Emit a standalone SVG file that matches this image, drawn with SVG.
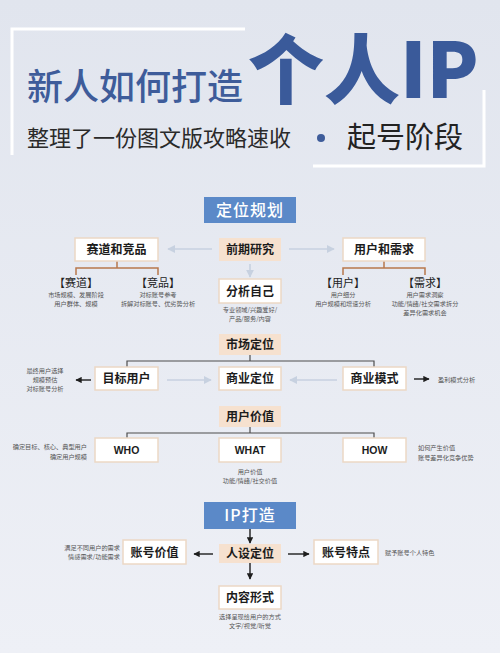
<svg xmlns="http://www.w3.org/2000/svg" width="500" height="653" viewBox="0 0 500 653">
<style>
text{font-family:"Noto Sans CJK SC","Noto Sans",sans-serif;}
.box{fill:#ffffff;stroke:#ecd8c5;stroke-width:1.5;}
.peach{fill:#f6e1cf;}
.blue{fill:#5b89c8;}
.lbl{font-size:12px;font-weight:700;fill:#1c1c1c;text-anchor:middle;}
.eng{font-family:"Liberation Sans",Arial,sans-serif;font-size:10.5px;font-weight:700;fill:#1c1c1c;text-anchor:middle;}
.wlbl{font-size:16px;font-weight:500;fill:#ffffff;text-anchor:middle;letter-spacing:1px;}
.sm{font-size:6.2px;fill:#555;}
.mid{text-anchor:middle;}
.end{text-anchor:end;}
.brk{font-size:11px;fill:#222;text-anchor:middle;}
.lt{stroke:#c7d1e0;stroke-width:1.6;fill:none;}
.dk{stroke:#1e1e1e;stroke-width:1.4;fill:none;}
.br{stroke:#b8784c;stroke-width:1.5;fill:none;}
.gl{stroke:#4d4d4d;stroke-width:1.2;fill:none;}
</style>
<defs>
<linearGradient id="bg" x1="0" y1="0" x2="0" y2="1">
<stop offset="0" stop-color="#e1e5ee"/>
<stop offset="1" stop-color="#eef0f6"/>
</linearGradient>
<marker id="ah-lt" viewBox="0 0 10 10" refX="9" refY="5" markerWidth="5" markerHeight="5" orient="auto"><path d="M0,0 L10,5 L0,10 z" fill="#c7d1e0"/></marker>
<marker id="ah-dk" viewBox="0 0 10 10" refX="9" refY="5" markerWidth="4.5" markerHeight="4.5" orient="auto"><path d="M0,0 L10,5 L0,10 z" fill="#1e1e1e"/></marker>
</defs>
<rect width="500" height="653" fill="url(#bg)"/>

<!-- header -->
<g id="header">
<path d="M12,155 V29 H245" stroke="#ffffff" stroke-width="3" fill="none"/>
<path d="M313,166 H484 V90" stroke="#ffffff" stroke-width="3" fill="none"/>
<text x="27" y="100" font-size="36" font-weight="500" fill="#3e5c9a">新人如何打造</text>
<text x="248" y="98" font-size="76" font-weight="900" fill="#3a5a9a">个人IP</text>
<text x="27" y="146" font-size="22" fill="#2a2a2a">整理了一份图文版攻略速收</text>
<circle cx="321" cy="138" r="4" fill="#3e5c9a"/>
<text x="347" y="148" font-size="29" fill="#222" style="font-family:'Liberation Sans','Noto Sans CJK SC',sans-serif">起号阶段</text>
</g>

<!-- connectors -->
<g id="connectors">
<line class="lt" x1="212" y1="249" x2="168" y2="249" marker-end="url(#ah-lt)"/>
<line class="lt" x1="289" y1="249" x2="334" y2="249" marker-end="url(#ah-lt)"/>
<line class="lt" x1="250" y1="264" x2="250" y2="277" marker-end="url(#ah-lt)"/>
<path class="br" d="M117,261 V268 M76,275 V268 H158 V275"/>
<path class="br" d="M384,261 V268 M343,275 V268 H425 V275"/>
<path class="gl" d="M250,355 V361 M127,367 V361 H374 V367"/>
<line class="lt" x1="167" y1="380" x2="211" y2="380" marker-end="url(#ah-lt)"/>
<line class="lt" x1="337" y1="380" x2="290" y2="380" marker-end="url(#ah-lt)"/>
<line class="dk" x1="91" y1="380" x2="76" y2="380" marker-end="url(#ah-dk)"/>
<line class="dk" x1="414" y1="379" x2="429" y2="379" marker-end="url(#ah-dk)"/>
<path class="gl" d="M250,427 V433 M127,438 V433 H374 V438"/>
<line class="dk" x1="250" y1="529" x2="250" y2="543" marker-end="url(#ah-dk)"/>
<line class="dk" x1="250" y1="563" x2="250" y2="579" marker-end="url(#ah-dk)"/>
<line class="dk" x1="213" y1="554" x2="194" y2="554" marker-end="url(#ah-dk)"/>
<line class="dk" x1="288" y1="554" x2="309" y2="554" marker-end="url(#ah-dk)"/>
</g>

<!-- section 1 -->
<g id="dingwei">
<rect class="blue" x="204" y="197" width="92" height="26"/>
<text class="wlbl" x="250" y="216">定位规划</text>
</g>
<g id="qianqi">
<rect class="peach" x="219" y="238" width="62" height="23"/>
<text class="lbl" x="250" y="254">前期研究</text>
</g>
<g id="fenxi">
<rect class="box" x="219" y="279" width="62" height="24"/>
<text class="lbl" x="250" y="295.5">分析自己</text>
<text class="sm mid" x="250" y="311.5">专业领域/兴趣爱好/</text>
<text class="sm mid" x="250" y="320.5">产品/服务/内容</text>
</g>
<g id="saidao">
<rect class="box" x="75" y="238" width="83" height="23"/>
<text class="lbl" x="116.5" y="254">赛道和竞品</text>
<text class="brk" x="76" y="287">【赛道】</text>
<text class="sm mid" x="76" y="297">市场规模、发展阶段</text>
<text class="sm mid" x="76" y="306">用户群体、规模</text>
<text class="brk" x="158" y="287">【竞品】</text>
<text class="sm mid" x="158" y="297">对标账号参考</text>
<text class="sm mid" x="158" y="306">拆解对标账号、优劣势分析</text>
</g>
<g id="yonghu">
<rect class="box" x="343" y="238" width="82" height="23"/>
<text class="lbl" x="384" y="254">用户和需求</text>
<text class="brk" x="343" y="287">【用户】</text>
<text class="sm mid" x="343" y="297">用户细分</text>
<text class="sm mid" x="343" y="306">用户规模和增速分析</text>
<text class="brk" x="425" y="287">【需求】</text>
<text class="sm mid" x="425" y="297">用户需求洞察</text>
<text class="sm mid" x="425" y="306">功能/情绪/社交需求拆分</text>
<text class="sm mid" x="425" y="315">差异化需求机会</text>
</g>

<!-- section 2 -->
<g id="shichang">
<rect class="peach" x="219" y="334" width="62" height="21"/>
<text class="lbl" x="250" y="349">市场定位</text>
</g>
<g id="mubiao">
<rect class="box" x="95" y="367" width="63" height="23"/>
<text class="lbl" x="126.5" y="383">目标用户</text>
<text class="sm mid" x="45" y="373">最终用户选择</text>
<text class="sm mid" x="45" y="382">规模预估</text>
<text class="sm mid" x="45" y="391">对标账号分析</text>
</g>
<g id="shangye">
<rect class="box" x="219" y="367" width="62" height="23"/>
<text class="lbl" x="250" y="383">商业定位</text>
</g>
<g id="moshi">
<rect class="box" x="343" y="367" width="63" height="23"/>
<text class="lbl" x="374.5" y="383">商业模式</text>
<text class="sm" x="438" y="381.5">盈利模式分析</text>
</g>

<!-- section 3 -->
<g id="jiazhi">
<rect class="peach" x="219" y="406" width="62" height="21"/>
<text class="lbl" x="250" y="421">用户价值</text>
</g>
<g id="who">
<rect class="box" x="95" y="438" width="63" height="24"/>
<text class="eng" x="126.5" y="454">WHO</text>
<text class="sm end" x="87" y="449" font-size="6.6">确定目标、核心、典型用户</text>
<text class="sm end" x="87" y="458.5" font-size="6.6">确定用户规模</text>
</g>
<g id="what">
<rect class="box" x="219" y="438" width="62" height="24"/>
<text class="eng" x="250" y="454">WHAT</text>
<text class="sm mid" x="250" y="474">用户价值</text>
<text class="sm mid" x="250" y="483">功能/情绪/社交价值</text>
</g>
<g id="how">
<rect class="box" x="343" y="438" width="63" height="24"/>
<text class="eng" x="374.5" y="454">HOW</text>
<text class="sm" x="418" y="450" font-size="6.6">如何产生价值</text>
<text class="sm" x="418" y="459.5" font-size="6.6">账号差异化竞争优势</text>
</g>

<!-- section 4 -->
<g id="ipdazao">
<rect class="blue" x="204" y="502" width="92" height="27"/>
<text class="wlbl" x="250" y="521" font-size="17">IP打造</text>
</g>
<g id="renshe">
<rect class="peach" x="219" y="544" width="62" height="19"/>
<text class="lbl" x="250" y="558">人设定位</text>
</g>
<g id="neirong">
<rect class="box" x="219" y="586" width="62" height="23"/>
<text class="lbl" x="250" y="602">内容形式</text>
<text class="sm mid" x="250" y="619">选择呈现给用户的方式</text>
<text class="sm mid" x="250" y="628">文字/视觉/听觉</text>
</g>
<g id="zhjz">
<rect class="box" x="123" y="540" width="63" height="24"/>
<text class="lbl" x="154.5" y="556.5">账号价值</text>
<text class="sm end" x="120" y="550">满足不同用户的需求</text>
<text class="sm end" x="120" y="559">情感需求/功能需求</text>
</g>
<g id="zhtd">
<rect class="box" x="314" y="540" width="64" height="24"/>
<text class="lbl" x="346" y="556.5">账号特点</text>
<text class="sm" x="385" y="554.5">赋予账号个人特色</text>
</g>
</svg>
